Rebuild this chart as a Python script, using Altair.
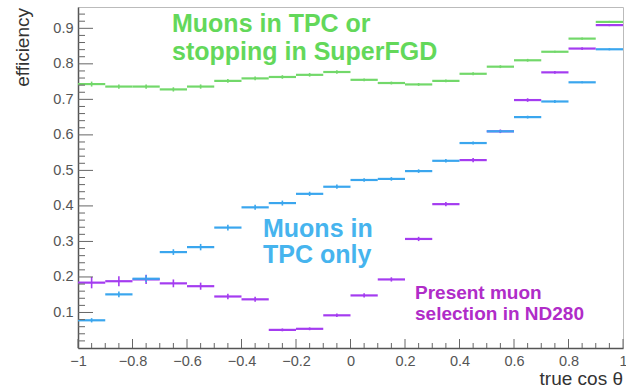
import altair as alt
import pandas as pd

# Bins of true cos(theta): lower edges, all of width 0.1
bin_lo = [-1.0, -0.9, -0.8, -0.7, -0.6, -0.5, -0.4, -0.3, -0.2, -0.1,
          0.0, 0.1, 0.2, 0.3, 0.4, 0.5, 0.6, 0.7, 0.8, 0.9]
bin_width = 0.1

# Muons in TPC or stopping in SuperFGD
eff_tpc_sfgd = [0.743, 0.736, 0.736, 0.728, 0.736, 0.752, 0.759, 0.763, 0.769, 0.777,
                0.755, 0.746, 0.742, 0.752, 0.772, 0.792, 0.810, 0.834, 0.871, 0.918]
err_tpc_sfgd = [0.007, 0.006, 0.006, 0.006, 0.006, 0.005, 0.005, 0.005, 0.005, 0.005,
                0.004, 0.004, 0.004, 0.004, 0.004, 0.004, 0.004, 0.003, 0.003, 0.003]

# Muons in TPC only
eff_tpc_only = [0.078, 0.151, 0.195, 0.270, 0.284, 0.339, 0.396, 0.408, 0.434, 0.454,
                0.473, 0.476, 0.498, 0.527, 0.577, 0.610, 0.650, 0.694, 0.748, 0.841]
err_tpc_only = [0.006, 0.008, 0.010, 0.008, 0.009, 0.008, 0.007, 0.007, 0.006, 0.006,
                0.005, 0.005, 0.005, 0.005, 0.004, 0.004, 0.004, 0.004, 0.003, 0.003]

# Present muon selection in ND280
eff_nd280 = [0.184, 0.188, 0.193, 0.182, 0.174, 0.145, 0.137, 0.051, 0.054, 0.092,
             0.148, 0.193, 0.307, 0.405, 0.529, 0.610, 0.698, 0.776, 0.843, 0.909]
err_nd280 = [0.016, 0.014, 0.013, 0.011, 0.010, 0.008, 0.007, 0.004, 0.004, 0.005,
             0.006, 0.006, 0.006, 0.006, 0.006, 0.005, 0.005, 0.004, 0.004, 0.003]

series_names = ["nd280", "tpc_only", "tpc_sfgd"]
series_colors = ["#a43cf0", "#3aa6ee", "#72d86a"]

# Axis tick positions
x_major = [-1.0, -0.8, -0.6, -0.4, -0.2, 0.0, 0.2, 0.4, 0.6, 0.8, 1.0]
x_minor = [round(-1 + 0.05 * i, 2) for i in range(41) if i % 4]
y_major = [0.1, 0.2, 0.3, 0.4, 0.5, 0.6, 0.7, 0.8, 0.9]
y_minor = [round(0.02 * i, 2) for i in range(1, 48) if i % 5]

rows = []
for name, vals, errs in [("nd280", eff_nd280, err_nd280),
                         ("tpc_only", eff_tpc_only, err_tpc_only),
                         ("tpc_sfgd", eff_tpc_sfgd, err_tpc_sfgd)]:
    for lo, v, e in zip(bin_lo, vals, errs):
        rows.append({"series": name, "lo": lo, "hi": lo + bin_width,
                     "mid": lo + bin_width / 2, "eff": v,
                     "elo": v - e, "ehi": v + e})
df = pd.DataFrame(rows)

FONT = "Liberation Sans"
W, H = 545, 341

x_scale = alt.Scale(domain=[-1, 1], nice=False, zero=False)
y_scale = alt.Scale(domain=[0, 0.96], nice=False, zero=False)
color = alt.Color("series:N",
                  scale=alt.Scale(domain=series_names, range=series_colors),
                  legend=None)

x_axis = alt.Axis(values=x_major, format=".1~f", title=None, tickSize=0,
                  labelPadding=6, labelFlush=False, labelOverlap=False,
                  labelFont=FONT, labelFontSize=14.5, labelColor="#555",
                  domainColor="#555", domainWidth=1.5, grid=False)
y_axis = alt.Axis(values=y_major, format=".1f", title=None, tickSize=0,
                  labelPadding=5, labelFont=FONT, labelFontSize=14.5,
                  labelColor="#555", domainColor="#555", domainWidth=1.5,
                  grid=False)

base = alt.Chart(df)

# horizontal bin-width bars
hbars = base.mark_rule(strokeWidth=2.2).encode(
    x=alt.X("lo:Q", scale=x_scale, axis=x_axis),
    x2="hi:Q",
    y=alt.Y("eff:Q", scale=y_scale, axis=y_axis),
    color=color,
)

# vertical statistical error bars
vbars = base.mark_rule(strokeWidth=1.6).encode(
    x=alt.X("mid:Q", scale=x_scale, axis=x_axis),
    y=alt.Y("elo:Q", scale=y_scale, axis=y_axis),
    y2="ehi:Q",
    color=color,
)

# inward-pointing axis ticks
def y_ticks(vals, length):
    return alt.Chart(pd.DataFrame({"v": vals})).mark_rule(
        color="#666", strokeWidth=1).encode(
        y=alt.Y("v:Q", scale=y_scale, axis=y_axis),
        x=alt.value(0), x2=alt.value(length))

def x_ticks(vals, length):
    return alt.Chart(pd.DataFrame({"v": vals})).mark_rule(
        color="#666", strokeWidth=1).encode(
        x=alt.X("v:Q", scale=x_scale, axis=x_axis),
        y=alt.value(H), y2=alt.value(H - length))

ticks = [y_ticks(y_major, 15), y_ticks(y_minor, 7),
         x_ticks(x_major, 9), x_ticks(x_minor, 5)]

def label(text, x, y, size, col, weight="bold", align="left", angle=0):
    return alt.Chart(pd.DataFrame({"t": [text]})).mark_text(
        font=FONT, fontSize=size, fontWeight=weight, color=col,
        align=align, baseline="alphabetic", angle=angle).encode(
        text="t:N", x=alt.value(x), y=alt.value(y))

texts = [
    label("Muons in TPC or", 94, 25, 25, "#63d85a"),
    label("stopping in SuperFGD", 94, 53, 25, "#63d85a"),
    label("Muons in", 185, 230, 25, "#46b4ee"),
    label("TPC only", 185, 256, 25, "#46b4ee"),
    label("Present muon", 337, 292, 19, "#b02cc8"),
    label("selection in ND280", 337, 313, 19, "#b02cc8"),
    label("efficiency", -49, 1, 19, "#333", weight="normal", align="right", angle=270),
    label("true cos \u03b8", 545, 378, 19, "#333", weight="normal", align="right"),
]

chart = alt.layer(hbars, vbars, *ticks, *texts).properties(
    width=W, height=H,
    padding={"left": 78, "top": 7, "right": 3, "bottom": 43},
    autosize="none",
    background="white",
).configure_view(stroke="#bbb", strokeWidth=1)

chart.save("out.html", embed_options={"renderer": "svg", "actions": False})
